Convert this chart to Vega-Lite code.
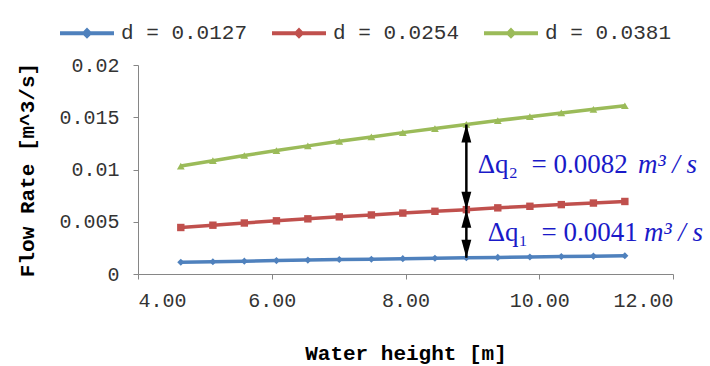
{
  "$schema": "https://vega.github.io/schema/vega-lite/v6.json",
  "width": 535,
  "height": 209,
  "autosize": {"type": "none"},
  "padding": {"left": 138, "top": 65, "right": 37, "bottom": 92},
  "background": "white",
  "config": {"view": {"stroke": null}, "font": "Liberation Mono"},
  "datasets": {
    "series": [
      {"h": 4.64, "q": 0.00112, "series": "d = 0.0127"},
      {"h": 5.12, "q": 0.00118, "series": "d = 0.0127"},
      {"h": 5.59, "q": 0.00123, "series": "d = 0.0127"},
      {"h": 6.07, "q": 0.00128, "series": "d = 0.0127"},
      {"h": 6.54, "q": 0.00133, "series": "d = 0.0127"},
      {"h": 7.01, "q": 0.00138, "series": "d = 0.0127"},
      {"h": 7.49, "q": 0.00142, "series": "d = 0.0127"},
      {"h": 7.96, "q": 0.00147, "series": "d = 0.0127"},
      {"h": 8.44, "q": 0.00151, "series": "d = 0.0127"},
      {"h": 8.91, "q": 0.00155, "series": "d = 0.0127"},
      {"h": 9.38, "q": 0.00159, "series": "d = 0.0127"},
      {"h": 9.86, "q": 0.00163, "series": "d = 0.0127"},
      {"h": 10.33, "q": 0.00167, "series": "d = 0.0127"},
      {"h": 10.81, "q": 0.00171, "series": "d = 0.0127"},
      {"h": 11.28, "q": 0.00175, "series": "d = 0.0127"},
      {"h": 4.64, "q": 0.00445, "series": "d = 0.0254"},
      {"h": 5.12, "q": 0.00467, "series": "d = 0.0254"},
      {"h": 5.59, "q": 0.00488, "series": "d = 0.0254"},
      {"h": 6.07, "q": 0.00509, "series": "d = 0.0254"},
      {"h": 6.54, "q": 0.00528, "series": "d = 0.0254"},
      {"h": 7.01, "q": 0.00547, "series": "d = 0.0254"},
      {"h": 7.49, "q": 0.00565, "series": "d = 0.0254"},
      {"h": 7.96, "q": 0.00583, "series": "d = 0.0254"},
      {"h": 8.44, "q": 0.00600, "series": "d = 0.0254"},
      {"h": 8.91, "q": 0.00616, "series": "d = 0.0254"},
      {"h": 9.38, "q": 0.00633, "series": "d = 0.0254"},
      {"h": 9.86, "q": 0.00648, "series": "d = 0.0254"},
      {"h": 10.33, "q": 0.00664, "series": "d = 0.0254"},
      {"h": 10.81, "q": 0.00679, "series": "d = 0.0254"},
      {"h": 11.28, "q": 0.00694, "series": "d = 0.0254"},
      {"h": 4.64, "q": 0.01033, "series": "d = 0.0381"},
      {"h": 5.12, "q": 0.01084, "series": "d = 0.0381"},
      {"h": 5.59, "q": 0.01134, "series": "d = 0.0381"},
      {"h": 6.07, "q": 0.01181, "series": "d = 0.0381"},
      {"h": 6.54, "q": 0.01226, "series": "d = 0.0381"},
      {"h": 7.01, "q": 0.01270, "series": "d = 0.0381"},
      {"h": 7.49, "q": 0.01312, "series": "d = 0.0381"},
      {"h": 7.96, "q": 0.01353, "series": "d = 0.0381"},
      {"h": 8.44, "q": 0.01392, "series": "d = 0.0381"},
      {"h": 8.91, "q": 0.01431, "series": "d = 0.0381"},
      {"h": 9.38, "q": 0.01468, "series": "d = 0.0381"},
      {"h": 9.86, "q": 0.01505, "series": "d = 0.0381"},
      {"h": 10.33, "q": 0.01541, "series": "d = 0.0381"},
      {"h": 10.81, "q": 0.01576, "series": "d = 0.0381"},
      {"h": 11.28, "q": 0.01610, "series": "d = 0.0381"}
    ],
    "arrows": [
      {"h": 8.91, "top": 0.01431, "bottom": 0.00616},
      {"h": 8.91, "top": 0.00616, "bottom": 0.00155}
    ],
    "labels": [
      {"h": 9.08, "q": 0.01043, "upright": "Δq₂\u2002= 0.0082", "hi": 11.476, "italic": "m³ / s"},
      {"h": 9.23, "q": 0.00392, "upright": "Δq₁\u2002= 0.0041", "hi": 11.566, "italic": "m³ / s"}
    ]
  },
  "layer": [
    {
      "data": {"name": "series"},
      "mark": {"type": "line", "strokeWidth": 3.5},
      "encoding": {
        "x": {
          "field": "h", "type": "quantitative",
          "scale": {"domain": [4, 12], "nice": false, "zero": false},
          "axis": {
            "title": "Water height [m]", "values": [4, 6, 8, 10, 12], "format": ".2f",
            "grid": false, "domainColor": "#868686", "tickColor": "#868686", "tickSize": 5,
            "labelFont": "Liberation Mono", "labelFontSize": 20, "labelColor": "#333333", "labelPadding": 11,
            "titleFont": "Liberation Mono", "titleFontSize": 21, "titleFontWeight": "bold", "titleColor": "#000000", "titlePadding": 32
          }
        },
        "y": {
          "field": "q", "type": "quantitative",
          "scale": {"domain": [0, 0.02], "nice": false},
          "axis": {
            "title": "Flow Rate [m^3/s]", "values": [0, 0.005, 0.01, 0.015, 0.02], "format": "~g",
            "grid": false, "domainColor": "#868686", "tickColor": "#868686", "tickSize": 5,
            "labelFont": "Liberation Mono", "labelFontSize": 20, "labelColor": "#333333", "labelPadding": 14,
            "titleFont": "Liberation Mono", "titleFontSize": 21, "titleFontWeight": "bold", "titleColor": "#000000", "titlePadding": 21
          }
        },
        "color": {
          "field": "series", "type": "nominal",
          "scale": {"domain": ["d = 0.0127", "d = 0.0254", "d = 0.0381"], "range": ["#4F81BD", "#C0504D", "#9BBB59"]},
          "legend": {
            "title": null, "orient": "none", "legendX": -80, "legendY": -61, "direction": "horizontal",
            "symbolType": "M-1,0H1M0,-0.1L0.1,0L0,0.1L-0.1,0Z", "symbolSize": 2916, "symbolStrokeWidth": 4,
            "labelFont": "Liberation Mono", "labelFontSize": 21, "labelColor": "#333333",
            "labelOffset": 5, "columnPadding": 16, "padding": 0
          }
        }
      }
    },
    {
      "data": {"name": "series"},
      "transform": [{"filter": "datum.series === 'd = 0.0127'"}],
      "mark": {"type": "point", "filled": true, "opacity": 1, "shape": "diamond", "size": 50, "color": "#4F81BD"},
      "encoding": {
        "x": {"field": "h", "type": "quantitative"},
        "y": {"field": "q", "type": "quantitative"}
      }
    },
    {
      "data": {"name": "series"},
      "transform": [{"filter": "datum.series === 'd = 0.0254'"}],
      "mark": {"type": "point", "filled": true, "opacity": 1, "shape": "square", "size": 55, "color": "#C0504D"},
      "encoding": {
        "x": {"field": "h", "type": "quantitative"},
        "y": {"field": "q", "type": "quantitative"}
      }
    },
    {
      "data": {"name": "series"},
      "transform": [{"filter": "datum.series === 'd = 0.0381'"}],
      "mark": {"type": "point", "filled": true, "opacity": 1, "shape": "triangle-up", "size": 60, "color": "#9BBB59"},
      "encoding": {
        "x": {"field": "h", "type": "quantitative"},
        "y": {"field": "q", "type": "quantitative"}
      }
    },
    {
      "data": {"name": "arrows"},
      "mark": {"type": "rule", "strokeWidth": 2.5, "color": "#000000"},
      "encoding": {
        "x": {"field": "h", "type": "quantitative"},
        "y": {"field": "top", "type": "quantitative"},
        "y2": {"field": "bottom"}
      }
    },
    {
      "data": {"name": "arrows"},
      "mark": {"type": "point", "filled": true, "opacity": 1, "color": "#000000", "shape": "M0,-1L0.55,1L-0.55,1Z", "size": 324, "yOffset": 9},
      "encoding": {
        "x": {"field": "h", "type": "quantitative"},
        "y": {"field": "top", "type": "quantitative"}
      }
    },
    {
      "data": {"name": "arrows"},
      "mark": {"type": "point", "filled": true, "opacity": 1, "color": "#000000", "shape": "M0,1L0.55,-1L-0.55,-1Z", "size": 324, "yOffset": -9},
      "encoding": {
        "x": {"field": "h", "type": "quantitative"},
        "y": {"field": "bottom", "type": "quantitative"}
      }
    },
    {
      "data": {"name": "labels"},
      "mark": {"type": "text", "font": "Liberation Serif", "fontSize": 27, "color": "#1A1AC8", "align": "left", "baseline": "middle"},
      "encoding": {
        "x": {"field": "h", "type": "quantitative"},
        "y": {"field": "q", "type": "quantitative"},
        "text": {"field": "upright"}
      }
    },
    {
      "data": {"name": "labels"},
      "mark": {"type": "text", "font": "Liberation Serif", "fontSize": 27, "fontStyle": "italic", "color": "#1A1AC8", "align": "left", "baseline": "middle"},
      "encoding": {
        "x": {"field": "hi", "type": "quantitative"},
        "y": {"field": "q", "type": "quantitative"},
        "text": {"field": "italic"}
      }
    }
  ]
}
